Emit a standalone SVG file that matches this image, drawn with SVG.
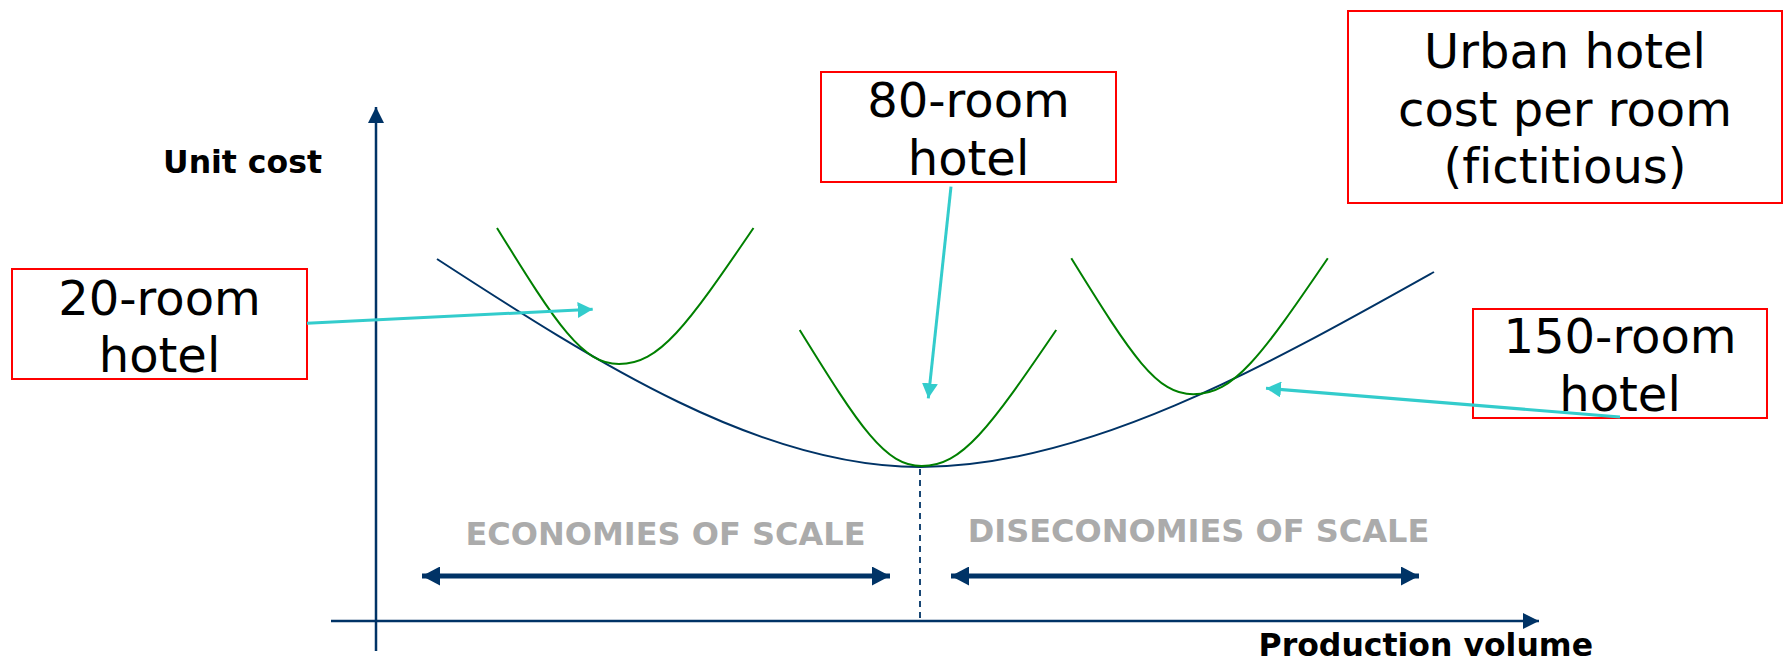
<svg xmlns="http://www.w3.org/2000/svg" width="1785" height="664" viewBox="0 0 1785 664">
  <style>
    .box { fill: none; stroke: #FF0000; stroke-width: 2; }
    .boxtxt { font-family: "DejaVu Sans", Verdana, sans-serif; font-size: 48px; fill: #000; text-anchor: middle; font-variant-ligatures: none; }
    .axislbl { font-family: "DejaVu Sans", Verdana, sans-serif; font-size: 31.5px; font-weight: bold; fill: #000; }
    .scale { font-family: "DejaVu Sans", Verdana, sans-serif; font-size: 32px; font-weight: bold; fill: #ABABAB; text-anchor: middle; }
    .axis { stroke: #003366; stroke-width: 2.5; fill: none; }
    .cost { stroke: #003366; stroke-width: 2; fill: none; }
    .hotel { stroke: #008000; stroke-width: 2; fill: none; }
    .callout { stroke: #33CCCC; stroke-width: 3; fill: none; marker-end: url(#cyanHead); }
    .range { stroke: #003366; stroke-width: 5; fill: none; marker-start: url(#navyStart); marker-end: url(#navyEnd); }
    .dash { stroke: #003366; stroke-width: 1.8; stroke-dasharray: 6 5; fill: none; }
  </style>
  <defs>
    <marker id="cyanHead" markerUnits="userSpaceOnUse" markerWidth="16" markerHeight="16" refX="15" refY="8" orient="auto">
      <path d="M0,0 L15,8 L0,16 Z" fill="#33CCCC"/>
    </marker>
    <marker id="axisHead" markerUnits="userSpaceOnUse" markerWidth="17" markerHeight="16" refX="16" refY="8" orient="auto">
      <path d="M0,0 L16,8 L0,16 Z" fill="#003366"/>
    </marker>
    <marker id="navyEnd" markerUnits="userSpaceOnUse" markerWidth="19" markerHeight="19" refX="18" refY="9.5" orient="auto">
      <path d="M0,0 L18,9.5 L0,19 Z" fill="#003366"/>
    </marker>
    <marker id="navyStart" markerUnits="userSpaceOnUse" markerWidth="19" markerHeight="19" refX="0" refY="9.5" orient="auto">
      <path d="M18,0 L0,9.5 L18,19 Z" fill="#003366"/>
    </marker>
  </defs>

  <g id="axes">
    <line class="axis" x1="376" y1="651" x2="376" y2="107" marker-end="url(#axisHead)"/>
    <line class="axis" x1="331" y1="621" x2="1539" y2="621" marker-end="url(#axisHead)"/>
    <text class="axislbl" x="322" y="172.5" text-anchor="end">Unit cost</text>
    <text class="axislbl" x="1593" y="656" text-anchor="end">Production volume</text>
  </g>

  <g id="curves">
    <path class="cost" d="M437,259 C597,363 760,467 920,467 C1087,467 1267,365.5 1434,272"/>
  </g>

  <g id="hotel-curves">
    <path class="hotel" d="M497,228 C558,326.6 582.4,364 619,364 C659.4,364 686.3,326.6 753.5,228"/>
    <path class="hotel" d="M799.7,330 C860.7,428.6 885.1,466 921.7,466 C962.1,466 989,428.6 1056.2,330"/>
    <path class="hotel" d="M1071.3,258.3 C1132.3,356.9 1156.7,394.3 1193.3,394.3 C1233.7,394.3 1260.6,356.9 1327.8,258.3"/>
  </g>

  <g id="scale-ranges">
    <line class="dash" x1="920" y1="469" x2="920" y2="620"/>
    <text class="scale" x="665.5" y="545">ECONOMIES OF SCALE</text>
    <text class="scale" x="1198.5" y="542">DISECONOMIES OF SCALE</text>
    <line class="range" x1="422" y1="576" x2="890" y2="576"/>
    <line class="range" x1="951" y1="576" x2="1419" y2="576"/>
  </g>

  <g id="node-20">
    <rect class="box" x="12" y="269" width="295" height="110"/>
    <text class="boxtxt" x="159.5" y="315">20-room</text>
    <text class="boxtxt" x="159.5" y="371.5">hotel</text>
  </g>
  <g id="node-80">
    <rect class="box" x="821" y="72" width="295" height="110"/>
    <text class="boxtxt" x="968.5" y="116.7">80-room</text>
    <text class="boxtxt" x="968.5" y="175">hotel</text>
  </g>
  <g id="node-150">
    <rect class="box" x="1473" y="309" width="294" height="109"/>
    <text class="boxtxt" x="1620" y="353.3">150-room</text>
    <text class="boxtxt" x="1620" y="410.7">hotel</text>
  </g>
  <g id="node-title">
    <rect class="box" x="1348" y="11" width="434" height="192"/>
    <text class="boxtxt" x="1565" y="68.3">Urban hotel</text>
    <text class="boxtxt" x="1565" y="126">cost per room</text>
    <text class="boxtxt" x="1565" y="183.3">(fictitious)</text>
  </g>

  <g id="connectors">
    <line class="callout" x1="307" y1="323.3" x2="592.7" y2="309.3"/>
    <line class="callout" x1="951" y1="186.7" x2="928.3" y2="398.3"/>
    <line class="callout" x1="1620" y1="417" x2="1266" y2="388.3"/>
  </g>
</svg>
